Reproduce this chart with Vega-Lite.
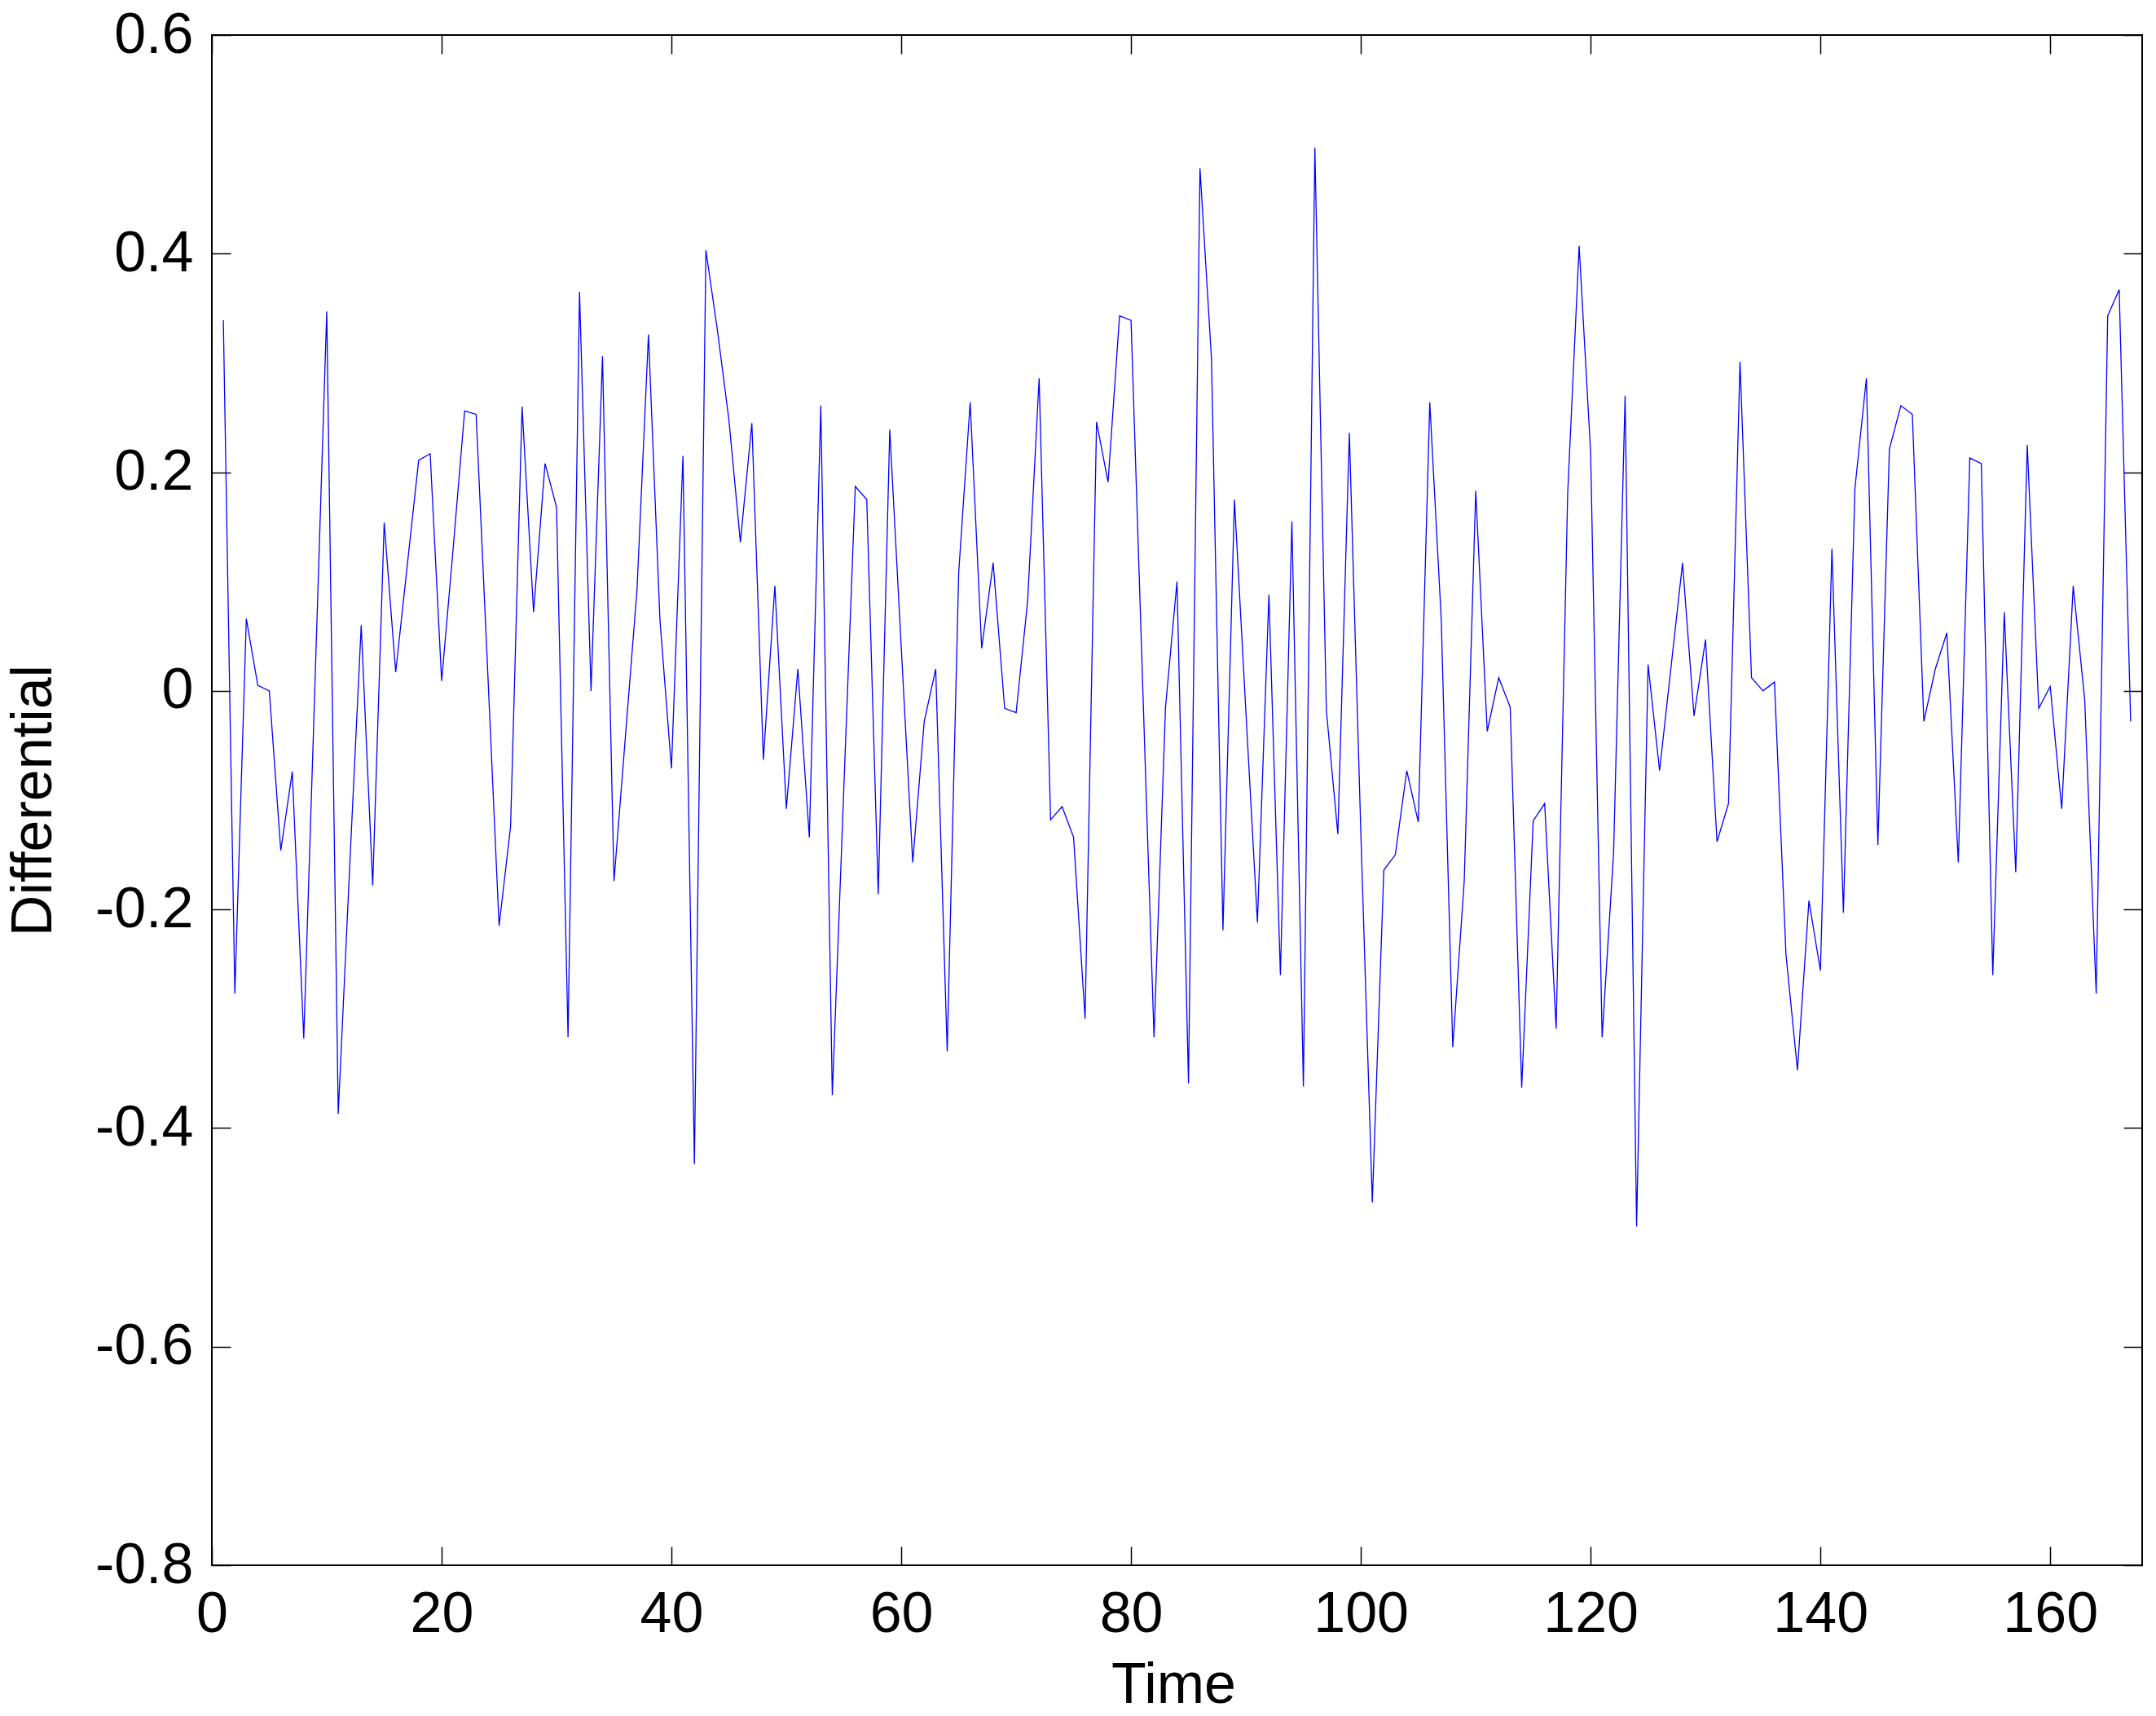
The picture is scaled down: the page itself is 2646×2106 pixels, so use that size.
{
  "$schema": "https://vega.github.io/schema/vega-lite/v6.json",
  "width": 2369,
  "height": 1878,
  "autosize": {"type": "none"},
  "padding": {"left": 260, "top": 43, "right": 17, "bottom": 185},
  "background": "white",
  "config": {
    "font": "Liberation Sans",
    "view": {"stroke": "black", "strokeWidth": 2},
    "axis": {
      "grid": false,
      "domain": false,
      "tickColor": "black",
      "tickWidth": 1.5,
      "tickSize": -23,
      "labelColor": "black",
      "labelFont": "Liberation Sans",
      "labelFontSize": 70,
      "titleFont": "Liberation Sans",
      "titleFontSize": 70,
      "titleFontWeight": "normal",
      "titleColor": "black",
      "labelFlush": false,
      "labelOverlap": false
    }
  },
  "data": {
    "values": [
      {"t":1,"v":0.339},{"t":2,"v":-0.277},{"t":3,"v":0.066},{"t":4,"v":0.005},{"t":5,"v":0.0},
      {"t":6,"v":-0.146},{"t":7,"v":-0.074},{"t":8,"v":-0.318},{"t":9,"v":0.015},{"t":10,"v":0.347},
      {"t":11,"v":-0.387},{"t":12,"v":-0.16},{"t":13,"v":0.06},{"t":14,"v":-0.178},{"t":15,"v":0.154},
      {"t":16,"v":0.017},{"t":17,"v":0.114},{"t":18,"v":0.211},{"t":19,"v":0.217},{"t":20,"v":0.009},
      {"t":21,"v":0.13},{"t":22,"v":0.256},{"t":23,"v":0.253},{"t":24,"v":0.02},{"t":25,"v":-0.215},
      {"t":26,"v":-0.124},{"t":27,"v":0.26},{"t":28,"v":0.072},{"t":29,"v":0.208},{"t":30,"v":0.168},
      {"t":31,"v":-0.317},{"t":32,"v":0.365},{"t":33,"v":0.0},{"t":34,"v":0.306},{"t":35,"v":-0.174},
      {"t":36,"v":-0.041},{"t":37,"v":0.092},{"t":38,"v":0.326},{"t":39,"v":0.065},{"t":40,"v":-0.071},
      {"t":41,"v":0.215},{"t":42,"v":-0.433},{"t":43,"v":0.403},{"t":44,"v":0.33},{"t":45,"v":0.248},
      {"t":46,"v":0.136},{"t":47,"v":0.245},{"t":48,"v":-0.063},{"t":49,"v":0.096},{"t":50,"v":-0.108},
      {"t":51,"v":0.02},{"t":52,"v":-0.134},{"t":53,"v":0.261},{"t":54,"v":-0.37},{"t":55,"v":-0.09},
      {"t":56,"v":0.187},{"t":57,"v":0.175},{"t":58,"v":-0.186},{"t":59,"v":0.239},{"t":60,"v":0.04},
      {"t":61,"v":-0.157},{"t":62,"v":-0.028},{"t":63,"v":0.02},{"t":64,"v":-0.33},{"t":65,"v":0.108},
      {"t":66,"v":0.264},{"t":67,"v":0.039},{"t":68,"v":0.117},{"t":69,"v":-0.016},{"t":70,"v":-0.02},
      {"t":71,"v":0.082},{"t":72,"v":0.286},{"t":73,"v":-0.118},{"t":74,"v":-0.106},{"t":75,"v":-0.134},
      {"t":76,"v":-0.3},{"t":77,"v":0.246},{"t":78,"v":0.191},{"t":79,"v":0.343},{"t":80,"v":0.339},
      {"t":81,"v":0.01},{"t":82,"v":-0.317},{"t":83,"v":-0.015},{"t":84,"v":0.1},{"t":85,"v":-0.359},
      {"t":86,"v":0.478},{"t":87,"v":0.304},{"t":88,"v":-0.219},{"t":89,"v":0.175},{"t":90,"v":-0.02},
      {"t":91,"v":-0.212},{"t":92,"v":0.088},{"t":93,"v":-0.26},{"t":94,"v":0.155},{"t":95,"v":-0.362},
      {"t":96,"v":0.497},{"t":97,"v":-0.018},{"t":98,"v":-0.131},{"t":99,"v":0.236},{"t":100,"v":-0.13},
      {"t":101,"v":-0.468},{"t":102,"v":-0.164},{"t":103,"v":-0.15},{"t":104,"v":-0.073},{"t":105,"v":-0.12},
      {"t":106,"v":0.264},{"t":107,"v":0.065},{"t":108,"v":-0.326},{"t":109,"v":-0.174},{"t":110,"v":0.183},
      {"t":111,"v":-0.037},{"t":112,"v":0.012},{"t":113,"v":-0.015},{"t":114,"v":-0.363},{"t":115,"v":-0.119},
      {"t":116,"v":-0.103},{"t":117,"v":-0.309},{"t":118,"v":0.18},{"t":119,"v":0.407},{"t":120,"v":0.218},
      {"t":121,"v":-0.317},{"t":122,"v":-0.148},{"t":123,"v":0.27},{"t":124,"v":-0.49},{"t":125,"v":0.024},
      {"t":126,"v":-0.073},{"t":127,"v":0.022},{"t":128,"v":0.117},{"t":129,"v":-0.023},{"t":130,"v":0.047},
      {"t":131,"v":-0.138},{"t":132,"v":-0.103},{"t":133,"v":0.301},{"t":134,"v":0.012},{"t":135,"v":0.0},
      {"t":136,"v":0.008},{"t":137,"v":-0.241},{"t":138,"v":-0.347},{"t":139,"v":-0.192},{"t":140,"v":-0.256},
      {"t":141,"v":0.13},{"t":142,"v":-0.203},{"t":143,"v":0.185},{"t":144,"v":0.286},{"t":145,"v":-0.141},
      {"t":146,"v":0.221},{"t":147,"v":0.261},{"t":148,"v":0.253},{"t":149,"v":-0.028},{"t":150,"v":0.02},
      {"t":151,"v":0.053},{"t":152,"v":-0.157},{"t":153,"v":0.213},{"t":154,"v":0.208},{"t":155,"v":-0.26},
      {"t":156,"v":0.072},{"t":157,"v":-0.166},{"t":158,"v":0.225},{"t":159,"v":-0.016},{"t":160,"v":0.004},
      {"t":161,"v":-0.108},{"t":162,"v":0.096},{"t":163,"v":-0.008},{"t":164,"v":-0.277},{"t":165,"v":0.343},
      {"t":166,"v":0.367},{"t":167,"v":-0.028}
    ]
  },
  "resolve": {"axis": {"x": "independent", "y": "independent"}},
  "layer": [
    {
      "mark": {"type": "line", "color": "#0000ff", "strokeWidth": 1.3},
      "encoding": {
        "x": {
          "field": "t", "type": "quantitative",
          "scale": {"domain": [0, 168], "nice": false, "zero": false},
          "axis": {
            "orient": "bottom",
            "values": [0, 20, 40, 60, 80, 100, 120, 140, 160],
            "labelPadding": 49,
            "title": "Time",
            "titleX": 1180,
            "titleY": 168,
            "titleBaseline": "alphabetic",
            "titleAlign": "center"
          }
        },
        "y": {
          "field": "v", "type": "quantitative",
          "scale": {"domain": [-0.8, 0.6], "nice": false, "zero": false},
          "axis": {
            "orient": "left",
            "values": [-0.8, -0.6, -0.4, -0.2, 0, 0.2, 0.4, 0.6],
            "labelExpr": "'' + round(datum.value * 10) / 10",
            "labelPadding": 46,
            "title": "Differential",
            "titleAngle": -90,
            "titleX": -198,
            "titleY": 939,
            "titleBaseline": "alphabetic",
            "titleAlign": "center"
          }
        }
      }
    },
    {
      "mark": {"type": "line", "strokeOpacity": 0},
      "encoding": {
        "x": {
          "field": "t", "type": "quantitative",
          "scale": {"domain": [0, 168], "nice": false, "zero": false},
          "axis": {
            "orient": "top",
            "values": [0, 20, 40, 60, 80, 100, 120, 140, 160],
            "labels": false,
            "title": null
          }
        },
        "y": {
          "field": "v", "type": "quantitative",
          "scale": {"domain": [-0.8, 0.6], "nice": false, "zero": false},
          "axis": {
            "orient": "right",
            "values": [-0.8, -0.6, -0.4, -0.2, 0, 0.2, 0.4, 0.6],
            "labels": false,
            "title": null
          }
        }
      }
    }
  ]
}
